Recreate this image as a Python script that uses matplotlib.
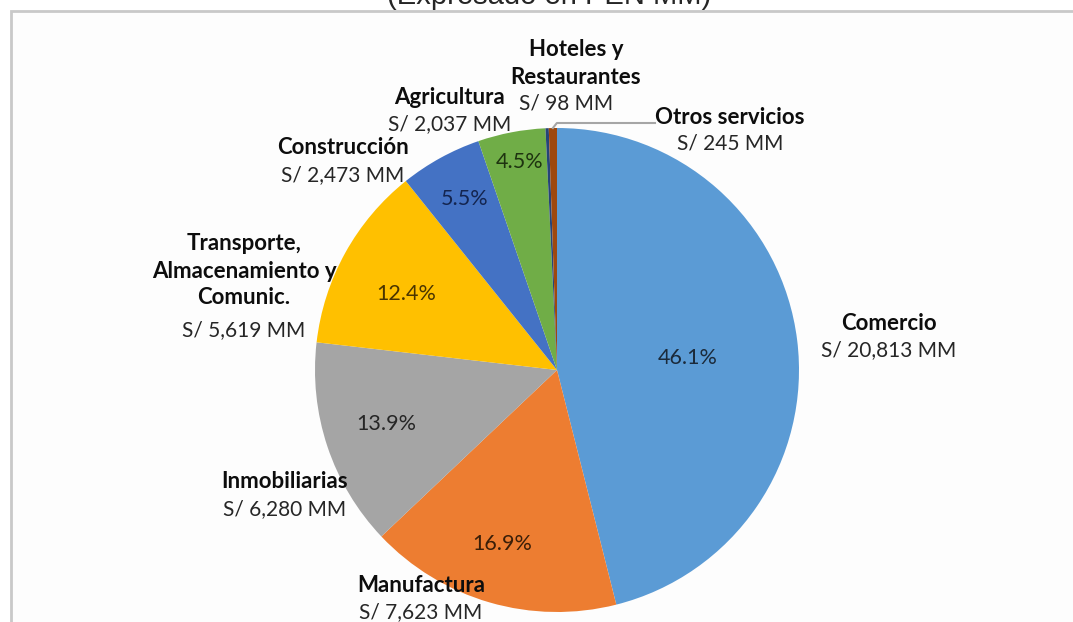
import numpy as np
import matplotlib
matplotlib.use("Agg")
import matplotlib.pyplot as plt
from matplotlib.patches import Rectangle

plt.rcParams["font.family"] = ["Lato", "DejaVu Sans"]

# datos (S/ millones)
sectores = ["Comercio", "Manufactura", "Inmobiliarias",
            "Transporte,\nAlmacenamiento y\nComunic.", "Construcción",
            "Agricultura", "Hoteles y\nRestaurantes", "Otros servicios"]
montos = [20813, 7623, 6280, 5619, 2473, 2037, 98, 245]
porcentajes = ["46.1%", "16.9%", "13.9%", "12.4%", "5.5%", "4.5%", "", ""]
colores = ["#5B9BD5", "#ED7D31", "#A5A5A5", "#FFC000", "#4472C4",
           "#70AD47", "#264478", "#9E480E"]
color_pct = ["#1b2a3a", "#3a1e08", "#262626", "#4a3500", "#14254f",
             "#1e3310", "#000000", "#000000"]

W, H = 1073, 622
fig = plt.figure(figsize=(W / 100, H / 100), dpi=100)
ax = fig.add_axes([0, 0, 1, 1])

def Y(y):
    return H - y

# marco del gráfico
ax.add_patch(Rectangle((10.5, Y(1200)), 1200, Y(11) - Y(1200),
                       facecolor="#fdfdfd", edgecolor="#c9c9c9", lw=2, zorder=0))

cx, cy, r = 557, Y(370), 242
wedges, _ = ax.pie(montos, colors=colores, startangle=90, counterclock=False,
                   center=(cx, cy), radius=r,
                   wedgeprops=dict(linewidth=0))

# porcentajes dentro
pos_pct = [(688, 358), (502, 544), (386, 424), (406, 294), (465, 199), (520, 162)]
for i, (px, py) in enumerate(pos_pct):
    ax.text(px, Y(py), porcentajes[i], ha="center", va="center",
            fontsize=15.5, color=color_pct[i])

# etiquetas externas: (x centro, y de la primera línea)
pos_lab = [(889, 323), (421, 585), (285, 482), (244, 244),
           (343, 148), (450, 97), (576, 50), (730, 117)]
salto = 27
for i, (lx, ly) in enumerate(pos_lab):
    lineas = sectores[i].split("\n")
    for k, t in enumerate(lineas):
        ax.text(lx, Y(ly + k * salto), t, ha="center", va="center",
                fontsize=16, fontweight="bold", color="#0d0d0d")
    monto = f"S/ {montos[i]:,} MM"
    dx = -10 if i == 6 else 0
    ax.text(lx + dx, Y(ly + len(lineas) * salto + (5 if i == 3 else 0)), monto,
            ha="center", va="center", fontsize=15, color="#262626")

# línea guía de "Otros servicios"
w = wedges[7]
ang = np.deg2rad((w.theta1 + w.theta2) / 2)
x0, y0 = cx + r * np.cos(ang), cy + r * np.sin(ang)
ax.plot([x0, x0 + 4, 655], [y0, Y(123), Y(123)], color="#a6a6a6", lw=1.5)

# título (cortado en la imagen original)
ax.text(549, Y(4), "(Expresado en PEN MM)", ha="center", va="baseline",
        fontsize=21, family="Liberation Sans", color="#262626")

ax.set_xlim(0, W)
ax.set_ylim(0, H)
ax.set_aspect("equal")
ax.axis("off")

fig.savefig("out.png", dpi=100)
